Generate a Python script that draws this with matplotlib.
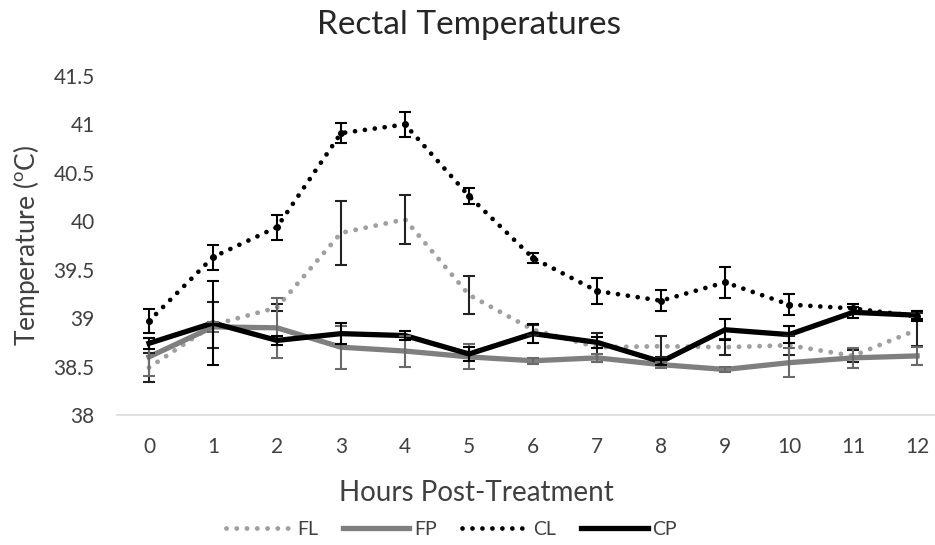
import matplotlib.pyplot as plt

plt.rcParams['font.family'] = ['Lato', 'DejaVu Sans']
plt.rcParams['mathtext.fontset'] = 'custom'
plt.rcParams['mathtext.rm'] = 'Lato'

hours = [0, 1, 2, 3, 4, 5, 6, 7, 8, 9, 10, 11, 12]

fl = [38.49, 38.93, 39.11, 39.88, 40.02, 39.24, 38.88, 38.70, 38.71, 38.70, 38.72, 38.61, 38.88]
fl_err = [0.15, 0.24, 0.04, 0.33, 0.25, 0.20, 0.05, 0.15, 0.11, 0.08, 0.10, 0.06, 0.17]

fp = [38.60, 38.91, 38.90, 38.70, 38.66, 38.60, 38.56, 38.59, 38.52, 38.47, 38.54, 38.59, 38.61]
fp_err = [0.20, 0.05, 0.31, 0.22, 0.16, 0.13, 0.03, 0.04, 0.03, 0.03, 0.15, 0.10, 0.09]

cl = [38.97, 39.63, 39.94, 40.91, 41.00, 40.26, 39.62, 39.28, 39.18, 39.37, 39.14, 39.10, 39.02]
cl_err = [0.12, 0.13, 0.13, 0.10, 0.13, 0.08, 0.05, 0.13, 0.11, 0.16, 0.11, 0.05, 0.05]

cp = [38.74, 38.95, 38.77, 38.84, 38.82, 38.63, 38.84, 38.75, 38.55, 38.88, 38.83, 39.06, 39.03]
cp_err = [0.06, 0.43, 0.05, 0.11, 0.05, 0.07, 0.10, 0.06, 0.03, 0.11, 0.09, 0.06, 0.04]

fig = plt.figure(figsize=(9.35, 5.45), dpi=100)
ax = fig.add_axes([117 / 935, 130 / 545, 818 / 935, 339 / 545])

dot = (0, (0.01, 2.1))
eb = dict(elinewidth=1.5, capsize=4.5, capthick=1.5, zorder=5)

l_fl, = ax.plot(hours, fl, color='#a0a0a0', lw=3.5, linestyle=dot, dash_capstyle='round', zorder=2)
l_fp, = ax.plot(hours, fp, color='#7f7f7f', lw=3.8, zorder=2)
l_cl, = ax.plot(hours, cl, color='black', lw=3.4, linestyle=dot, dash_capstyle='round', zorder=3)
l_cp, = ax.plot(hours, cp, color='black', lw=3.8, zorder=4)

ax.errorbar(hours, fl, yerr=fl_err, fmt='none', ecolor='#222222', **eb)
ax.errorbar(hours, fp, yerr=fp_err, fmt='none', ecolor='#6a6a6a', **eb)
ax.errorbar(hours, cl, yerr=cl_err, fmt='none', ecolor='black', **eb)
ax.errorbar(hours, cp, yerr=cp_err, fmt='none', ecolor='black', **eb)
ax.plot(hours, cl, 'o', color='black', ms=4, zorder=6)

ax.set_xlim(-0.5, 12.28)
ax.set_ylim(38, 41.5)
ax.set_xticks(hours)
ax.set_yticks([38, 38.5, 39, 39.5, 40, 40.5, 41, 41.5])
ax.set_yticklabels(['38', '38.5', '39', '39.5', '40', '40.5', '41', '41.5'])
ax.tick_params(length=0, labelsize=15, colors='#404040', pad=16)
ax.tick_params(axis='y', pad=16)
for s in ['top', 'right', 'left']:
    ax.spines[s].set_visible(False)
ax.spines['bottom'].set_color('#d9d9d9')
ax.spines['bottom'].set_linewidth(1.2)

ax.set_ylabel('Temperature ($^{\\mathrm{o}}$C)', fontsize=19, color='#404040', labelpad=8)
fig.text(0.51, 0.095, 'Hours Post-Treatment', ha='center', va='center', fontsize=20, color='#404040')
fig.text(0.502, 0.955, 'Rectal Temperatures', ha='center', va='center', fontsize=24, color='#262626')

fig.legend([l_fl, l_fp, l_cl, l_cp], ['FL', 'FP', 'CL', 'CP'], loc='center',
           bbox_to_anchor=(0.483, 0.028), ncol=4, frameon=False, fontsize=14,
           handlelength=3.4, handletextpad=0.25, columnspacing=1.3, labelcolor='#404040')

fig.savefig('out.png', dpi=100)
